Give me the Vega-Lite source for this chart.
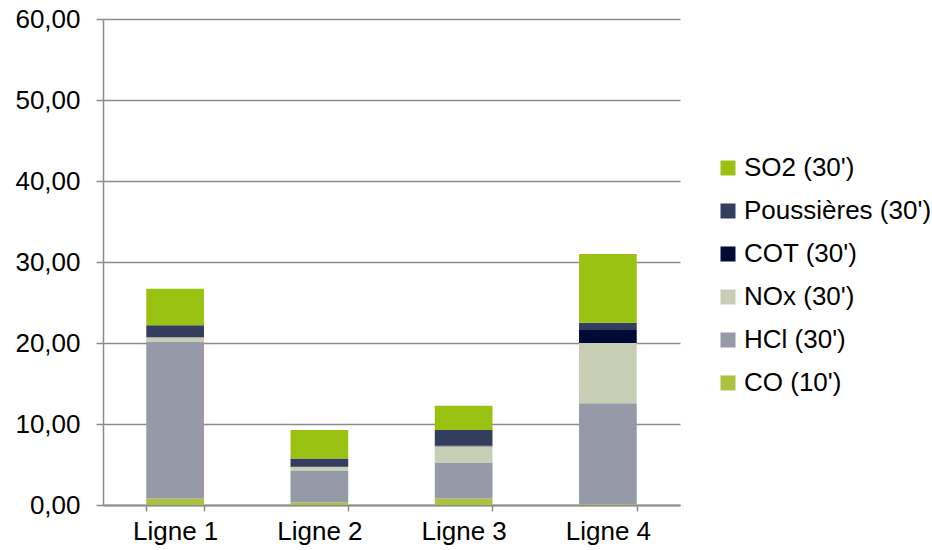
{
  "$schema": "https://vega.github.io/schema/vega-lite/v6.json",
  "width": 577,
  "height": 486,
  "autosize": "none",
  "padding": {"left": 103, "top": 19, "right": 252, "bottom": 45},
  "background": "white",
  "config": {
    "locale": {"number": {"decimal": ",", "thousands": " ", "grouping": [3], "currency": ["", " €"]}},
    "font": "Liberation Sans",
    "view": {"stroke": null}
  },
  "data": {
    "values": [
      {"ligne": "Ligne 1", "polluant": "CO (10')", "ordre": 1, "valeur": 0.8},
      {"ligne": "Ligne 1", "polluant": "HCl (30')", "ordre": 2, "valeur": 19.4},
      {"ligne": "Ligne 1", "polluant": "NOx (30')", "ordre": 3, "valeur": 0.5},
      {"ligne": "Ligne 1", "polluant": "COT (30')", "ordre": 4, "valeur": 0.05},
      {"ligne": "Ligne 1", "polluant": "Poussières (30')", "ordre": 5, "valeur": 1.45},
      {"ligne": "Ligne 1", "polluant": "SO2 (30')", "ordre": 6, "valeur": 4.5},
      {"ligne": "Ligne 2", "polluant": "CO (10')", "ordre": 1, "valeur": 0.3},
      {"ligne": "Ligne 2", "polluant": "HCl (30')", "ordre": 2, "valeur": 3.9},
      {"ligne": "Ligne 2", "polluant": "NOx (30')", "ordre": 3, "valeur": 0.5},
      {"ligne": "Ligne 2", "polluant": "COT (30')", "ordre": 4, "valeur": 0.05},
      {"ligne": "Ligne 2", "polluant": "Poussières (30')", "ordre": 5, "valeur": 1.0},
      {"ligne": "Ligne 2", "polluant": "SO2 (30')", "ordre": 6, "valeur": 3.5},
      {"ligne": "Ligne 3", "polluant": "CO (10')", "ordre": 1, "valeur": 0.8},
      {"ligne": "Ligne 3", "polluant": "HCl (30')", "ordre": 2, "valeur": 4.45},
      {"ligne": "Ligne 3", "polluant": "NOx (30')", "ordre": 3, "valeur": 2.0},
      {"ligne": "Ligne 3", "polluant": "COT (30')", "ordre": 4, "valeur": 0.05},
      {"ligne": "Ligne 3", "polluant": "Poussières (30')", "ordre": 5, "valeur": 1.95},
      {"ligne": "Ligne 3", "polluant": "SO2 (30')", "ordre": 6, "valeur": 3.0},
      {"ligne": "Ligne 4", "polluant": "CO (10')", "ordre": 1, "valeur": 0.1},
      {"ligne": "Ligne 4", "polluant": "HCl (30')", "ordre": 2, "valeur": 12.45},
      {"ligne": "Ligne 4", "polluant": "NOx (30')", "ordre": 3, "valeur": 7.45},
      {"ligne": "Ligne 4", "polluant": "COT (30')", "ordre": 4, "valeur": 1.6},
      {"ligne": "Ligne 4", "polluant": "Poussières (30')", "ordre": 5, "valeur": 0.9},
      {"ligne": "Ligne 4", "polluant": "SO2 (30')", "ordre": 6, "valeur": 8.5}
    ]
  },
  "mark": {"type": "bar"},
  "encoding": {
    "x": {
      "field": "ligne",
      "type": "nominal",
      "scale": {"paddingInner": 0.6, "paddingOuter": 0.3},
      "axis": {
        "title": null,
        "labelAngle": 0,
        "labelFontSize": 26,
        "labelColor": "#000000",
        "labelPadding": 7,
        "tickBand": "extent",
        "tickColor": "#8c8c8c",
        "tickWidth": 1.5,
        "tickSize": 6,
        "domainColor": "#8c8c8c",
        "domainWidth": 2,
        "grid": false
      }
    },
    "y": {
      "field": "valeur",
      "type": "quantitative",
      "aggregate": "sum",
      "stack": "zero",
      "scale": {"domain": [0, 60], "nice": false},
      "axis": {
        "title": null,
        "values": [0, 10, 20, 30, 40, 50, 60],
        "format": ".2f",
        "labelFontSize": 26,
        "labelColor": "#000000",
        "labelPadding": 16,
        "tickColor": "#8c8c8c",
        "tickWidth": 1.5,
        "tickSize": 7,
        "domainColor": "#8c8c8c",
        "domainWidth": 1.5,
        "grid": true,
        "gridColor": "#8c8c8c",
        "gridWidth": 1.5
      }
    },
    "color": {
      "field": "polluant",
      "type": "nominal",
      "scale": {
        "domain": ["SO2 (30')", "Poussières (30')", "COT (30')", "NOx (30')", "HCl (30')", "CO (10')"],
        "range": ["#99C213", "#333D5E", "#000A36", "#C8CEB4", "#969AA8", "#AAC240"]
      },
      "legend": {
        "title": null,
        "orient": "none",
        "legendX": 612,
        "legendY": 136,
        "labelFontSize": 26,
        "labelLimit": 400,
        "labelColor": "#000000",
        "symbolType": "square",
        "symbolSize": 225,
        "symbolStrokeWidth": 0,
        "rowPadding": 17,
        "labelOffset": 3
      }
    },
    "order": {"field": "ordre", "type": "quantitative", "sort": "ascending"}
  }
}
